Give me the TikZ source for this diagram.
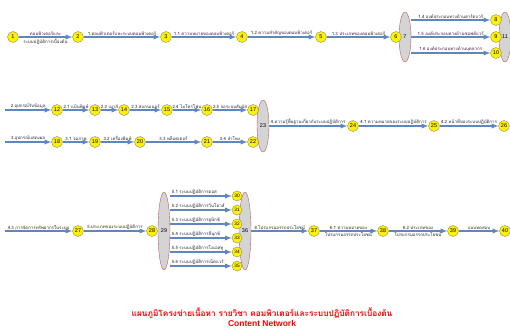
\documentclass[tikz,border=0pt]{standalone}
\usepackage{fontspec}
\setmainfont{Liberation Sans}
\newfontfamily\thai[Script=Thai]{Loma}
\usetikzlibrary{shapes,arrows,positioning}

\definecolor{linkblue}{RGB}{95,135,190}
\definecolor{groupred}{RGB}{185,95,95}
\definecolor{groupgray}{RGB}{212,212,212}
\definecolor{ringgray}{RGB}{140,140,110}

\begin{document}
\begin{tikzpicture}[x=1pt, y=-1pt, on grid]
    % Styles
    \tikzstyle{topic} = [circle, draw=ringgray, fill=yellow, minimum size=11pt, inner sep=0pt, font=\fontsize{5.5}{6}\selectfont]
    \tikzstyle{topic_small} = [topic, minimum size=10pt, font=\fontsize{4.8}{5}\selectfont]
    \tikzstyle{group} = [ellipse, draw=groupred, fill=groupgray, minimum width=12pt, inner sep=0pt, font=\fontsize{5.5}{6}\selectfont]
    \tikzstyle{arrow} = [->, >=latex, draw=linkblue, line width=1.3pt]
    \tikzstyle{lbl} = [above, inner sep=1pt, text=black!85, font=\thai\fontsize{4.4}{5}\selectfont]
    \tikzstyle{lbl_below} = [lbl, below]

    \useasboundingbox (0,0) rectangle (510,329);

    % Group ellipses
    \node [group, minimum height=50pt] (e7) at (405,37) {7};
    \node [group, minimum height=50pt, right=100pt of e7] (e11) {11};
    \node [group, minimum height=52pt] (e23) at (263,126) {23};
    \node [group, minimum height=78pt] (e29) at (164,231) {29};
    \node [group, minimum height=78pt, right=81pt of e29] (e36) {36};

    % Computer and computer system
    \node [topic] (n1) at (13,37) {1};
    \node [topic, right=65pt of n1] (n2) {2};
    \node [topic, right=88pt of n2] (n3) {3};
    \node [topic, right=76pt of n3] (n4) {4};
    \node [topic, right=79pt of n4] (n5) {5};
    \node [topic, left=9pt of e7] (n6) {6};
    \node [topic, above right=17pt and 91pt of e7] (n8) {8};
    \node [topic, right=91pt of e7] (n9) {9};
    \node [topic, below right=16pt and 91pt of e7] (n10) {10};

    % Input devices
    \coordinate (s2) at (5,110);
    \node [topic] (n12) at (57,110) {12};
    \node [topic, right=38pt of n12] (n13) {13};
    \node [topic, right=29pt of n13] (n14) {14};
    \node [topic, right=43pt of n14] (n15) {15};
    \node [topic, right=40pt of n15] (n16) {16};
    \node [topic, right=46pt of n16] (n17) {17};

    % Output devices
    \coordinate (s3) at (5,142);
    \node [topic, below=32pt of n12] (n18) {18};
    \node [topic, right=38pt of n18] (n19) {19};
    \node [topic, right=45pt of n19] (n20) {20};
    \node [topic, right=67pt of n20] (n21) {21};
    \node [topic, right=46pt of n21] (n22) {22};

    % Operating system basics
    \node [topic, right=90pt of e23] (n24) {24};
    \node [topic, right=81pt of n24] (n25) {25};
    \node [topic, right=70pt of n25] (n26) {26};

    % Operating system types
    \coordinate (s4) at (5,231);
    \node [topic] (n27) at (78,231) {27};
    \node [topic, left=12pt of e29] (n28) {28};
    \node [topic_small, above right=35pt and 73pt of e29] (n30) {30};
    \node [topic_small, below=14pt of n30] (n31) {31};
    \node [topic_small, below=14pt of n31] (n32) {32};
    \node [topic_small, below=14pt of n32] (n33) {33};
    \node [topic_small, below=14pt of n33] (n34) {34};
    \node [topic_small, below=14pt of n34] (n35) {35};

    % Utility programs
    \node [topic, right=69pt of e36] (n37) {37};
    \node [topic, right=69pt of n37] (n38) {38};
    \node [topic, right=70pt of n38] (n39) {39};
    \node [topic, right=52pt of n39] (n40) {40};

    % Connections
    \draw [arrow] (n1) -- node[lbl] {คอมพิวเตอร์และ} node[lbl_below] {ระบบปฏิบัติการเบื้องต้น} (n2);
    \draw [arrow] (n2) -- node[lbl] {1.คอมพิวเตอร์และระบบคอมพิวเตอร์} (n3);
    \draw [arrow] (n3) -- node[lbl] {1.1 ความหมายของคอมพิวเตอร์} (n4);
    \draw [arrow] (n4) -- node[lbl] {1.2 ความสำคัญของคอมพิวเตอร์} (n5);
    \draw [arrow] (n5) -- node[lbl] {1.3 ประเภทของคอมพิวเตอร์} (n6);
    \draw [arrow] (e7.east |- n8) -- node[lbl] {1.4 องค์ประกอบทางด้านฮาร์ดแวร์} (n8);
    \draw [arrow] (e7.east |- n9) -- node[lbl] {1.5 องค์ประกอบทางด้านซอฟต์แวร์} (n9);
    \draw [arrow] (e7.east |- n10) -- node[lbl] {1.6 องค์ประกอบทางด้านบุคลากร} (n10);

    \draw [arrow] (s2) -- node[lbl] {2.อุปกรณ์รับข้อมูล} (n12);
    \draw [arrow] (n12) -- node[lbl] {2.1 แป้นพิมพ์} (n13);
    \draw [arrow] (n13) -- node[lbl] {2.2 เมาส์} (n14);
    \draw [arrow] (n14) -- node[lbl] {2.3 สแกนเนอร์} (n15);
    \draw [arrow] (n15) -- node[lbl] {2.4 ไมโครโฟน} (n16);
    \draw [arrow] (n16) -- node[lbl] {2.5 จอระบบสัมผัส} (n17);

    \draw [arrow] (s3) -- node[lbl] {3.อุปกรณ์แสดงผล} (n18);
    \draw [arrow] (n18) -- node[lbl] {3.1 จอภาพ} (n19);
    \draw [arrow] (n19) -- node[lbl] {3.2 เครื่องพิมพ์} (n20);
    \draw [arrow] (n20) -- node[lbl] {3.3 พล็อตเตอร์} (n21);
    \draw [arrow] (n21) -- node[lbl] {3.4 ลำโพง} (n22);

    \draw [arrow] (e23) -- node[lbl] {4.ความรู้พื้นฐานเกี่ยวกับระบบปฏิบัติการ} (n24);
    \draw [arrow] (n24) -- node[lbl] {4.1 ความหมายของระบบปฏิบัติการ} (n25);
    \draw [arrow] (n25) -- node[lbl] {4.2 หน้าที่ของระบบปฏิบัติการ} (n26);

    \draw [arrow] (s4) -- node[lbl] {4.3 การจัดการทรัพยากรในระบบ} (n27);
    \draw [arrow] (n27) -- node[lbl] {5.ประเภทของระบบปฏิบัติการ} (n28);
    \draw [arrow] (e29.east |- n30) -- node[lbl, pos=0, anchor=south west] {5.1 ระบบปฏิบัติการดอส} (n30);
    \draw [arrow] (e29.east |- n31) -- node[lbl, pos=0, anchor=south west] {5.2 ระบบปฏิบัติการวินโดวส์} (n31);
    \draw [arrow] (e29.east |- n32) -- node[lbl, pos=0, anchor=south west] {5.3 ระบบปฏิบัติการยูนิกซ์} (n32);
    \draw [arrow] (e29.east |- n33) -- node[lbl, pos=0, anchor=south west] {5.4 ระบบปฏิบัติการลีนุกซ์} (n33);
    \draw [arrow] (e29.east |- n34) -- node[lbl, pos=0, anchor=south west] {5.5 ระบบปฏิบัติการโอเอสทู} (n34);
    \draw [arrow] (e29.east |- n35) -- node[lbl, pos=0, anchor=south west] {5.6 ระบบปฏิบัติการเน็ตแวร์} (n35);

    \draw [arrow] (e36) -- node[lbl] {6.โปรแกรมอรรถประโยชน์} (n37);
    \draw [arrow] (n37) -- node[lbl] {6.1 ความหมายของ} node[lbl_below] {โปรแกรมอรรถประโยชน์} (n38);
    \draw [arrow] (n38) -- node[lbl] {6.2 ประเภทของ} node[lbl_below] {โปรแกรมอรรถประโยชน์} (n39);
    \draw [arrow] (n39) -- node[lbl] {แบบทดสอบ} (n40);

    % Title
    \node [text=red, font=\thai\bfseries\fontsize{8.3}{9}\selectfont] (title) at (262,313) {แผนภูมิโครงข่ายเนื้อหา รายวิชา คอมพิวเตอร์และระบบปฏิบัติการเบื้องต้น};
    \node [text=red, font=\bfseries\fontsize{8.5}{9}\selectfont, below=10pt of title] (subtitle) {Content Network};

\end{tikzpicture}
\end{document}
